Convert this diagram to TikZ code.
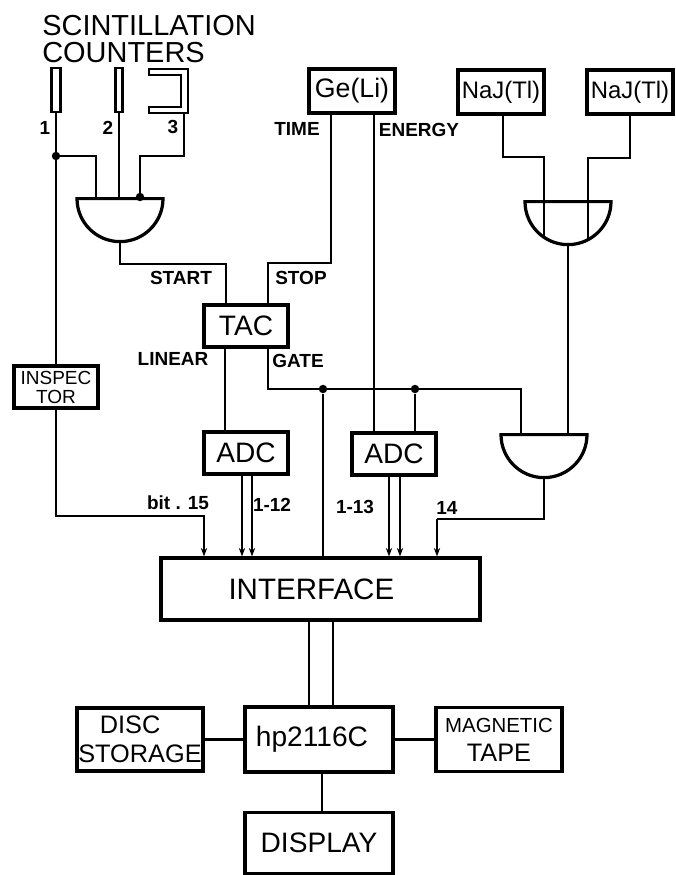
\documentclass[tikz,border=0pt]{standalone}
\usepackage{fontspec}
\setmainfont{Liberation Sans}
\usetikzlibrary{arrows.meta,shapes.geometric}
\newcommand{\fsz}[1]{\fontsize{#1}{#1}\selectfont}
\tikzset{
  wire/.style={line width=2.1pt},
  arr/.style={wire,-{Stealth[length=6pt,width=4.5pt]}},
  box/.style={draw,line width=2.3pt,align=center,inner sep=0pt,
              font=\fsz{20},minimum width=21cm/10,minimum height=1.05cm},
  lbl/.style={inner sep=0pt,font=\bfseries\fsz{13.5}},
  cntr/.style={draw,line width=2pt,inner sep=0pt,minimum height=1.1cm},
  gate/.style={semicircle,draw,line width=2.3pt,shape border rotate=180,
               inner sep=0pt,minimum width=2.15cm,anchor=chord center},
  dot/.style={circle,fill=black,inner sep=0pt,minimum size=6pt},
}
\begin{document}
\begin{tikzpicture}[x=0.25mm,y=-0.25mm]
\useasboundingbox (0,0) rectangle (676,875);

%% ---------- counters (top left) ----------
\node[inner sep=0pt,anchor=north west,align=left,font=\fontsize{20.6}{19.4}\selectfont]
  (title) at (42,15) {SCINTILLATION\\COUNTERS};
\node[cntr,minimum width=2.3mm] (c1) at (56,90) {};
\node[cntr,minimum width=1.7mm] (c2) at (119,90) {};
\draw[line width=2pt] (149,69) -- (188,69) -- (188,113) -- (149,113)
  -- (149,107) -- (181,107) -- (181,75) -- (149,75) -- cycle;
\coordinate (c3) at (184,113);
\node[lbl] (n1) at (45,128) {1};
\node[lbl] (n2) at (108,128) {2};
\node[lbl] (n3) at (173,127) {3};

%% ---------- detectors ----------
\node[box,minimum width=2.15cm,minimum height=1.1cm,font=\fsz{19}] (ge) at (352,91) {Ge(Li)};
\node[box,minimum width=2.15cm,minimum height=1.1cm,font=\fsz{17}] (na1) at (501,92) {NaJ(Tl)};
\node[box,minimum width=2.15cm,minimum height=1.1cm,font=\fsz{17}] (na2) at (630,92) {NaJ(Tl)};
\node[lbl] (time) at (297,129) {TIME};
\node[lbl] (energy) at (419,130) {ENERGY};

%% ---------- gates ----------
\node[gate] (gt1) at (120,197) {};
\node[gate] (gt2) at (568,200) {};
\node[gate] (gt3) at (544,433) {};

%% ---------- middle row ----------
\node[box] (tac) at (246,326) {TAC};
\node[box] (adc1) at (246,453) {ADC};
\node[box] (adc2) at (394,454) {ADC};
\node[box,font=\fsz{13.5},minimum height=1.05cm] (insp) at (56,387) {INSPEC\\TOR};
\node[lbl] (start) at (181,278) {START};
\node[lbl] (stop) at (301,278) {STOP};
\node[lbl] (linear) at (173,359) {LINEAR};
\node[lbl] (gatel) at (298,361) {GATE};

%% ---------- computer (bottom) ----------
\node[box,minimum width=7.98cm,minimum height=1.55cm,font=\fsz{21}] (intf) at (320.5,589)
  {INTERFACE\hspace*{13pt}};
\node[box,minimum width=3.7cm,minimum height=1.62cm] (hp) at (319,739.5)
  {\raisebox{-2pt}{hp2116C}\hspace*{10pt}};
\node[box,minimum width=3.15cm,minimum height=1.58cm,font=\fontsize{18}{20.6}\selectfont]
  (disc) at (140,739.5) {DISC\hspace*{14pt}\\STORAGE};
\node[box,minimum width=3.15cm,minimum height=1.6cm,font=\fontsize{18}{20.6}\selectfont]
  (tape) at (499,739.5) {{\fsz{14.5}MAGNETIC}\\TAPE};
\node[box,minimum width=3.7cm,minimum height=1.52cm] (disp) at (319,843) {DISPLAY};
\node[lbl] (b15) at (178,503) {bit . 15};
\node[lbl] (b12) at (272,505) {1-12};
\node[lbl] (b13) at (355,507) {1-13};
\node[lbl] (b14) at (447,508) {14};

%% helper points
\node[dot] (j1) at (56,156) {};
\node[dot] (j2) at (140,197) {};
\node[dot] (j3) at (323,389) {};
\node[dot] (j4) at (415,389) {};
\coordinate (in1) at (96,197);
\coordinate (st) at (226,264);
\coordinate (sp) at (268,263);
\coordinate (tm) at (331,200);
\coordinate (en) at (374,200);
\coordinate (lin) at (225,400);
\coordinate (gt) at (268,389);
\coordinate (in3a) at (521,433);
\coordinate (in2a) at (503,157);
\coordinate (in2b) at (630,158);
\coordinate (a2l) at (544,236);
\coordinate (a2r) at (588,238);
\coordinate (ins) at (204,516);
\coordinate (a14) at (437,519);
\coordinate (ba) at (242,500);
\coordinate (bb) at (252,500);
\coordinate (bc) at (389,500);
\coordinate (bd) at (400,500);
\coordinate (be) at (309,660);
\coordinate (bf) at (333,660);
\coordinate (bg) at (322,790);

%% scintillator wires
\draw[wire] (c1.south) -- (insp.north);
\draw[wire] (j1) -| (in1);
\draw[wire] (c2.south) -- (c2 |- gt1.chord center);
\draw[wire] (c3) |- (j2 |- j1) -- (j2);
\draw[wire] (gt1.apex) |- (st) -- (st |- tac.north);

%% Ge(Li) wires
\draw[wire] (tm |- ge.south) |- (sp) -- (sp |- tac.north);
\draw[wire] (en |- ge.south) -- (en |- adc2.north);

%% NaJ wires
\draw[wire] (in2a |- na1.south) -- (in2a) -| (a2l);
\draw[wire] (na2.south) -- (in2b) -| (a2r);
\draw[wire] (gt2.apex) -- (gt2.apex |- gt3.chord center);

%% TAC outputs
\draw[wire] (lin |- tac.south) -- (lin |- adc1.north);
\draw[wire] (gt |- tac.south) -- (gt) -| (in3a);
\draw[wire] (j3) -- (j3 |- intf.north);
\draw[wire] (j4) -- (j4 |- adc2.north);

%% into the interface
\draw[arr] (insp.south) |- (ins) -- (ins |- intf.north);
\draw[arr] (ba |- adc1.south) -- (ba |- intf.north);
\draw[arr] (bb |- adc1.south) -- (bb |- intf.north);
\draw[arr] (bc |- adc2.south) -- (bc |- intf.north);
\draw[arr] (bd |- adc2.south) -- (bd |- intf.north);
\draw[wire] (gt3.apex) |- (a14);
\draw[arr] (a14) -- (a14 |- intf.north);

%% computer
\draw[wire] (be |- intf.south) -- (be |- hp.north);
\draw[wire] (bf |- intf.south) -- (bf |- hp.north);
\draw[wire] (disc) -- (hp);
\draw[wire] (hp) -- (tape);
\draw[wire] (bg |- hp.south) -- (bg |- disp.north);
\end{tikzpicture}
\end{document}
